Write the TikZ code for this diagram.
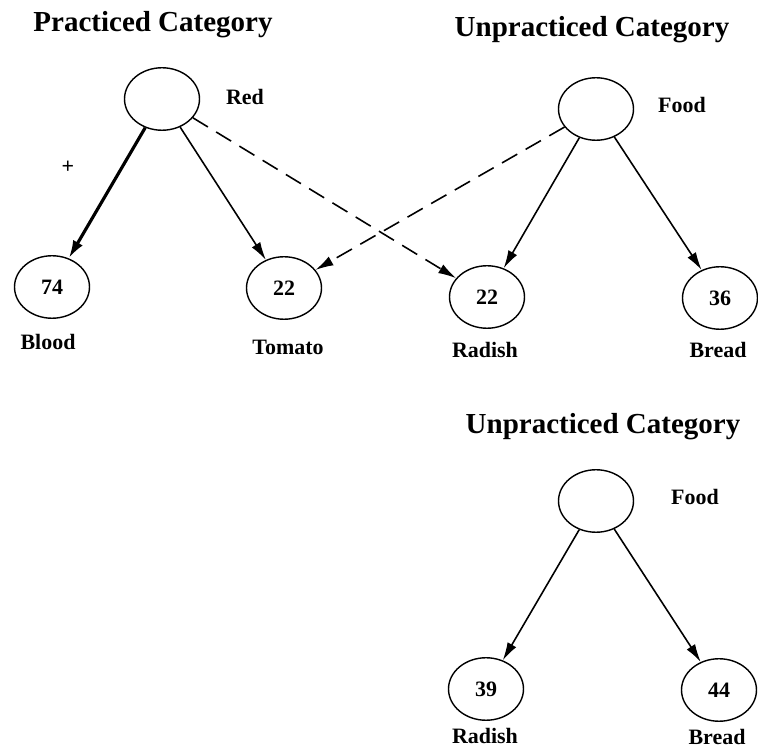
\documentclass[tikz,border=0pt]{standalone}
\usepackage{fontspec}
\setmainfont{Liberation Serif}
\usepackage{tikz}
\usetikzlibrary{positioning}
\usetikzlibrary{arrows.meta,shapes}
\tikzstyle{unit}=[ellipse,draw,thick,minimum width=1.5cm,minimum height=1.25cm,inner sep=0pt,font=\fontsize{12.5}{14}\selectfont\bfseries]
\tikzstyle{word}=[inner sep=1pt,font=\fontsize{12.5}{14}\selectfont\bfseries]
\tikzstyle{title}=[inner sep=1pt,font=\fontsize{16.5}{19}\selectfont\bfseries]
\tikzstyle{link} = [draw,line width=0.9pt,-{Latex[length=3.6mm,width=2mm]}]
\tikzstyle{strong} = [draw,line width=1.8pt,-{Latex[length=3.6mm,width=2.2mm]}]
\tikzstyle{cross} = [draw,line width=0.9pt,dash pattern=on 10pt off 5.5pt,-{Latex[length=3.6mm,width=2mm]}]

\begin{document}
\begin{tikzpicture}[x=0.02cm,y=-0.02cm]
    \useasboundingbox (0,0) rectangle (758,749);

    % Titles
    \node[title] (tP) at (153,25) {Practiced Category};
    \node[title] (tU) at (592,30) {Unpracticed Category};
    \node[title] (tV) at (603,427) {Unpracticed Category};

    % First we draw the category units
    \foreach \pos/\name in {{(162,99)/red}, {(596,109)/food}, {(596,501)/foodB}}
        \node[unit] (\name) at \pos {};

    % Then the exemplar units with their numbers
    \foreach \pos/\name/\num in {{(52,287)/blood/74}, {(284,288)/tomato/22}, {(487,297)/radish/22}, {(720,298)/bread/36}, {(486,689)/radishB/39}, {(719,690)/breadB/44}}
        \node[unit] (\name) at \pos {\num};

    % Words
    \foreach \pos/\name/\text in {{(245,97)/wRed/Red}, {(682,105)/wFood/Food}, {(695,497)/wFoodB/Food}, {(48,342)/wBlood/Blood}, {(288,347)/wTomato/Tomato}, {(485,350)/wRadish/Radish}, {(718,350)/wBread/Bread}, {(485,736)/wRadishB/Radish}, {(717,737)/wBreadB/Bread}}
        \node[word] (\name) at \pos {\text};
    \node[word] (plus) at (68,167) {+};

    % Connect units
    \path[strong] (red) -- (blood);
    \foreach \source/ \dest in {red/tomato, food/radish, food/bread, foodB/radishB, foodB/breadB}
        \path[link] (\source) -- (\dest);
    \foreach \source/ \dest in {red/radish, food/tomato}
        \path[cross] (\source) -- (\dest);

\end{tikzpicture}
\end{document}
